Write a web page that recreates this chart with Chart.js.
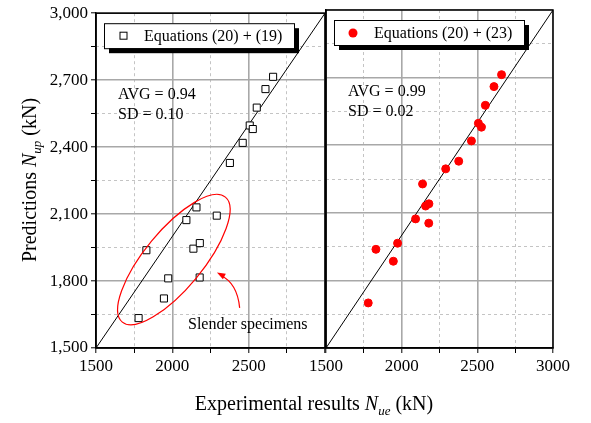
<!DOCTYPE html>
<html>
<head>
<meta charset="utf-8">
<script src="https://cdn.jsdelivr.net/npm/chart.js@4"></script>
<style>
  body { margin: 0; background: #fff; }
  canvas { position: absolute; top: 0; }
</style>
</head>
<body>
<canvas id="chartLeft" width="591" height="423" style="left:0"></canvas>
<canvas id="chartRight" width="295" height="423" style="left:296px"></canvas>
<script>
/* data */
const experimental = [2660, 2610, 2553, 2507, 2527, 2461, 2377, 2291, 2138, 2158, 2180, 2092, 2179, 1973, 1830, 1945, 1779];
const predicted19 = [2715, 2660, 2577, 2497, 2481, 2419, 2329, 2093, 1945, 2130, 1970, 2073, 1816, 1812, 1938, 1722, 1634];
const predicted23 = [2713, 2660, 2577, 2497, 2480, 2419, 2329, 2295, 2228, 2130, 2140, 2073, 2054, 1965, 1938, 1885, 1700];
const lineOfEquality = [1500, 3000];
const axisMin = 1500, axisMax = 3000;
const xMajor = [1500, 2000, 2500, 3000];
const xMinor = [1750, 2250, 2750];
const yMajor = [1500, 1800, 2100, 2400, 2700, 3000];
const yMinor = [1650, 1950, 2250, 2550, 2850];
const xLabelsLeft = [1500, 2000, 2500];
const xLabelsRight = [1500, 2000, 2500, 3000];

const FONT = '"Liberation Serif", serif';

const toPoints = (xs, ys) => xs.map((x, i) => ({x: x, y: ys[i]}));
const diag = lineOfEquality.map(v => ({x: v, y: v}));
const setTicks = vals => s => { s.ticks = vals.map(v => ({value: v})); };

// text with an italic subscript, centred on x
function richText(c, parts, x, y) {
  let w = 0;
  parts.forEach(p => { c.font = p.font; w += c.measureText(p.t).width; });
  let cx = x - w / 2;
  parts.forEach(p => {
    c.font = p.font;
    c.fillText(p.t, cx, y + (p.dy || 0));
    cx += c.measureText(p.t).width;
  });
}
function titleParts(pre, sub) {
  return [
    { t: pre, font: '20px ' + FONT },
    { t: 'N', font: 'italic 20px ' + FONT },
    { t: sub, font: 'italic 13px ' + FONT, dy: 5 },
    { t: ' (kN)', font: '20px ' + FONT }
  ];
}

// frame, legend box and statistics text
function panelPlugin(opt) {
  return {
    id: 'panel',
    afterDraw(chart) {
      const c = chart.ctx, a = chart.chartArea;
      c.save();
      c.strokeStyle = '#000';
      c.lineWidth = 1.5;
      c.strokeRect(a.left, a.top, a.right - a.left, a.bottom - a.top);
      // legend
      const bx = a.left + 8, by = a.top + 10, bw = 190, bh = 25;
      c.fillStyle = '#000';
      c.fillRect(bx + 5, by + 5, bw, bh);
      c.fillStyle = '#fff';
      c.fillRect(bx, by, bw, bh);
      c.lineWidth = 1;
      c.strokeRect(bx + 0.5, by + 0.5, bw, bh);
      if (opt.marker === 'rect') {
        c.strokeRect(bx + 16, by + 9, 7, 7);
      } else {
        c.fillStyle = 'red';
        c.beginPath();
        c.arc(bx + 19, by + 13, 4.5, 0, Math.PI * 2);
        c.fill();
      }
      c.fillStyle = '#000';
      c.font = '16px ' + FONT;
      c.textBaseline = 'alphabetic';
      c.fillText(opt.label, bx + 40, by + 18);
      c.fillText(opt.avg, a.left + 22, a.top + 86);
      c.fillText(opt.sd, a.left + 22, a.top + 106);
      if (opt.after) opt.after(chart, c);
      c.restore();
    }
  };
}

function slender(chart, c) {
  const xs = chart.scales.x, ys = chart.scales.y;
  const cx = xs.getPixelForValue(2010), cy = ys.getPixelForValue(1896);
  c.strokeStyle = 'red';
  c.lineWidth = 1.2;
  c.beginPath();
  c.ellipse(cx, cy, 81, 29, -50.5 * Math.PI / 180, 0, Math.PI * 2);
  c.stroke();
  // arrow
  const sx = xs.getPixelForValue(2441), sy = ys.getPixelForValue(1680);
  const qx = xs.getPixelForValue(2425), qy = ys.getPixelForValue(1790);
  const ex = xs.getPixelForValue(2292), ey = ys.getPixelForValue(1838);
  c.beginPath();
  c.moveTo(sx, sy);
  c.quadraticCurveTo(qx, qy, ex + 4, ey + 3);
  c.stroke();
  const ang = Math.atan2(ey - qy, ex - qx);
  c.fillStyle = 'red';
  c.beginPath();
  c.moveTo(ex, ey);
  c.lineTo(ex - 9 * Math.cos(ang - 0.35), ey - 9 * Math.sin(ang - 0.35));
  c.lineTo(ex - 9 * Math.cos(ang + 0.35), ey - 9 * Math.sin(ang + 0.35));
  c.closePath();
  c.fill();
  c.fillStyle = '#000';
  c.font = '16px ' + FONT;
  c.textAlign = 'center';
  c.fillText('Slender specimens', xs.getPixelForValue(2494), ys.getPixelForValue(1607) + 5);
  c.textAlign = 'left';
  // axis titles (shared by both panels)
  richText(c, titleParts('Experimental results ', 'ue'), 314, 410);
  c.save();
  c.translate(36, 180);
  c.rotate(-Math.PI / 2);
  richText(c, titleParts('Predictions ', 'up'), 0, 0);
  c.restore();
}

function makeConfig(pred, pointOpts, xLabels, showY, padding, plugin) {
  return {
    type: 'scatter',
    data: {
      datasets: [
        Object.assign({ data: toPoints(experimental, pred) }, pointOpts),
        { type: 'line', data: diag, borderColor: '#000', borderWidth: 1, pointRadius: 0, showLine: true, fill: false }
      ]
    },
    options: {
      animation: false,
      responsive: false,
      layout: { padding: padding },
      plugins: { legend: { display: false }, tooltip: { enabled: false } },
      scales: {
        // dotted grid + small ticks between labelled values
        xm: {
          type: 'linear', min: axisMin, max: axisMax, position: 'bottom', weight: 0,
          afterBuildTicks: setTicks(xMinor),
          ticks: { display: false },
          grid: { color: '#c4c4c4', lineWidth: 1, tickColor: '#000', tickLength: 5, tickWidth: 1 },
          border: { display: false, dash: [3, 3] },
          afterFit: s => { s.height = 0; }
        },
        ym: {
          type: 'linear', min: axisMin, max: axisMax, position: 'left', weight: 0,
          afterBuildTicks: setTicks(yMinor),
          ticks: { display: false },
          grid: { color: '#c4c4c4', lineWidth: 1, drawTicks: showY, tickColor: '#000', tickLength: 5, tickWidth: 1 },
          border: { display: false, dash: [3, 3] },
          afterFit: s => { s.width = 0; }
        },
        x: {
          type: 'linear', min: axisMin, max: axisMax, position: 'bottom', weight: 1,
          afterBuildTicks: setTicks(xMajor),
          ticks: {
            color: '#000', font: { family: FONT, size: 17 }, padding: 3, maxRotation: 0, autoSkip: false,
            callback: v => xLabels.includes(v) ? String(v) : ''
          },
          grid: { color: '#a8a8a8', lineWidth: 1.6, tickColor: '#000', tickLength: 5, tickWidth: 1 },
          border: { color: '#000', width: 1.5 },
          afterFit: s => { s.height = 75; }
        },
        y: {
          type: 'linear', min: axisMin, max: axisMax, position: 'left', weight: 1,
          afterBuildTicks: setTicks(yMajor),
          ticks: {
            display: showY, color: '#000', font: { family: FONT, size: 17 }, padding: 3, autoSkip: false
          },
          grid: { color: '#a8a8a8', lineWidth: 1.6, drawTicks: showY, tickColor: '#000', tickLength: 5, tickWidth: 1 },
          border: { color: '#000', width: 1.5 },
          afterFit: s => { s.width = showY ? 96 : 0; }
        }
      }
    },
    plugins: [plugin]
  };
}

const leftChart = new Chart(document.getElementById('chartLeft'), makeConfig(
  predicted19,
  { pointStyle: 'rect', pointRadius: 5, pointBackgroundColor: '#fff', pointBorderColor: '#000', pointBorderWidth: 1 },
  xLabelsLeft, true, { top: 10, left: 0, right: 266, bottom: 0 },
  panelPlugin({ marker: 'rect', label: 'Equations (20) + (19)', avg: 'AVG = 0.94', sd: 'SD = 0.10', after: slender })
));

const rightChart = new Chart(document.getElementById('chartRight'), makeConfig(
  predicted23,
  { pointStyle: 'circle', pointRadius: 4, pointBackgroundColor: 'red', pointBorderColor: 'red', pointBorderWidth: 1 },
  xLabelsRight, false, { top: 10, left: 30, right: 38, bottom: 0 },
  panelPlugin({ marker: 'circle', label: 'Equations (20) + (23)', avg: 'AVG = 0.99', sd: 'SD = 0.02' })
));
</script>
</body>
</html>
